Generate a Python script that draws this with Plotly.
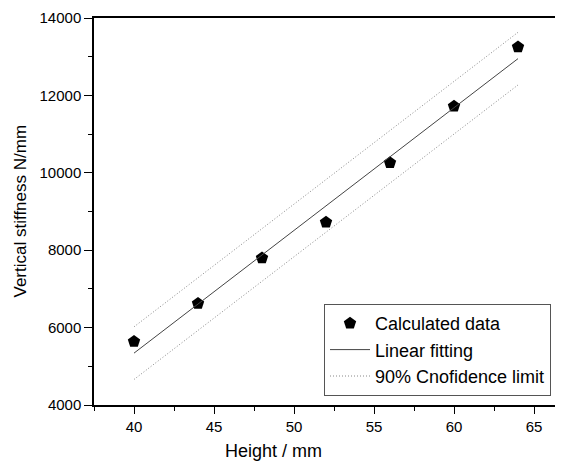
import plotly.graph_objects as go

height_mm = [40, 44, 48, 52, 56, 60, 64]
stiffness = [5640, 6620, 7800, 8720, 10260, 11720, 13250]

fit_x = [40, 64]
fit_y = [5340, 12950]
upper_y = [6020, 13630]
lower_y = [4660, 12270]

x_ticks = [40, 45, 50, 55, 60, 65]
y_ticks = [4000, 6000, 8000, 10000, 12000, 14000]
y_tick_text = [str(v) for v in y_ticks]

FONT = "Liberation Sans, Arial, sans-serif"
PW = 461  # plot width in px
PH = 387  # plot height in px

fig = go.Figure()
fig.add_trace(go.Scatter(x=height_mm, y=stiffness, mode="markers", name="Calculated data",
                         marker=dict(symbol="pentagon", size=13, color="black")))
fig.add_trace(go.Scatter(x=fit_x, y=fit_y, mode="lines", name="Linear fitting",
                         line=dict(color="#444444", width=1)))
fig.add_trace(go.Scatter(x=fit_x, y=upper_y, mode="lines", name="90% Cnofidence limit",
                         line=dict(color="#888888", width=1, dash="1px,2px")))
fig.add_trace(go.Scatter(x=fit_x, y=lower_y, mode="lines", name="90% Cnofidence limit",
                         showlegend=False, line=dict(color="#888888", width=1, dash="1px,2px")))

fig.update_layout(
    width=547, height=456,
    margin=dict(l=86, r=0, t=10, b=59, autoexpand=False),
    paper_bgcolor="white", plot_bgcolor="white",
    font=dict(family=FONT, size=15, color="black"),
    showlegend=True,
    legend=dict(x=(324 - 94) / PW, y=(405 - 304) / PH, xanchor="left", yanchor="top",
                bordercolor="#555555", borderwidth=1, bgcolor="white",
                font=dict(size=18), tracegroupgap=0, itemwidth=40),
    xaxis=dict(range=[37.5, 37.5 + PW / 16], tickvals=x_ticks, showgrid=False, zeroline=False,
               automargin=False,
               showline=True, linecolor="black", linewidth=1.5, mirror=True,
               ticks="outside", ticklen=7, tickwidth=1, tickcolor="black",
               minor=dict(ticks="outside", ticklen=4, dtick=2.5, tick0=37.5, tickcolor="black", showgrid=False),
               tickfont=dict(size=15)),
    yaxis=dict(range=[4000, 14000], tickvals=y_ticks, ticktext=y_tick_text, showgrid=False, zeroline=False,
               automargin=False,
               showline=True, linecolor="black", linewidth=1.5,
               ticks="outside", ticklen=8, tickwidth=1, tickcolor="black",
               minor=dict(ticks="outside", ticklen=4, dtick=1000, tick0=4000, tickcolor="black", showgrid=False),
               tickfont=dict(size=15)),
    annotations=[
        dict(text="Height / mm", xref="paper", yref="paper", x=(273 - 94) / PW, y=-46 / PH,
             xanchor="center", yanchor="middle", showarrow=False, font=dict(size=18)),
        dict(text="Vertical stiffness N/mm", xref="paper", yref="paper", x=-74 / PW, y=0.5,
             xanchor="center", yanchor="middle", textangle=-90, showarrow=False, font=dict(size=17)),
    ],
)

fig.write_html("out.html")
